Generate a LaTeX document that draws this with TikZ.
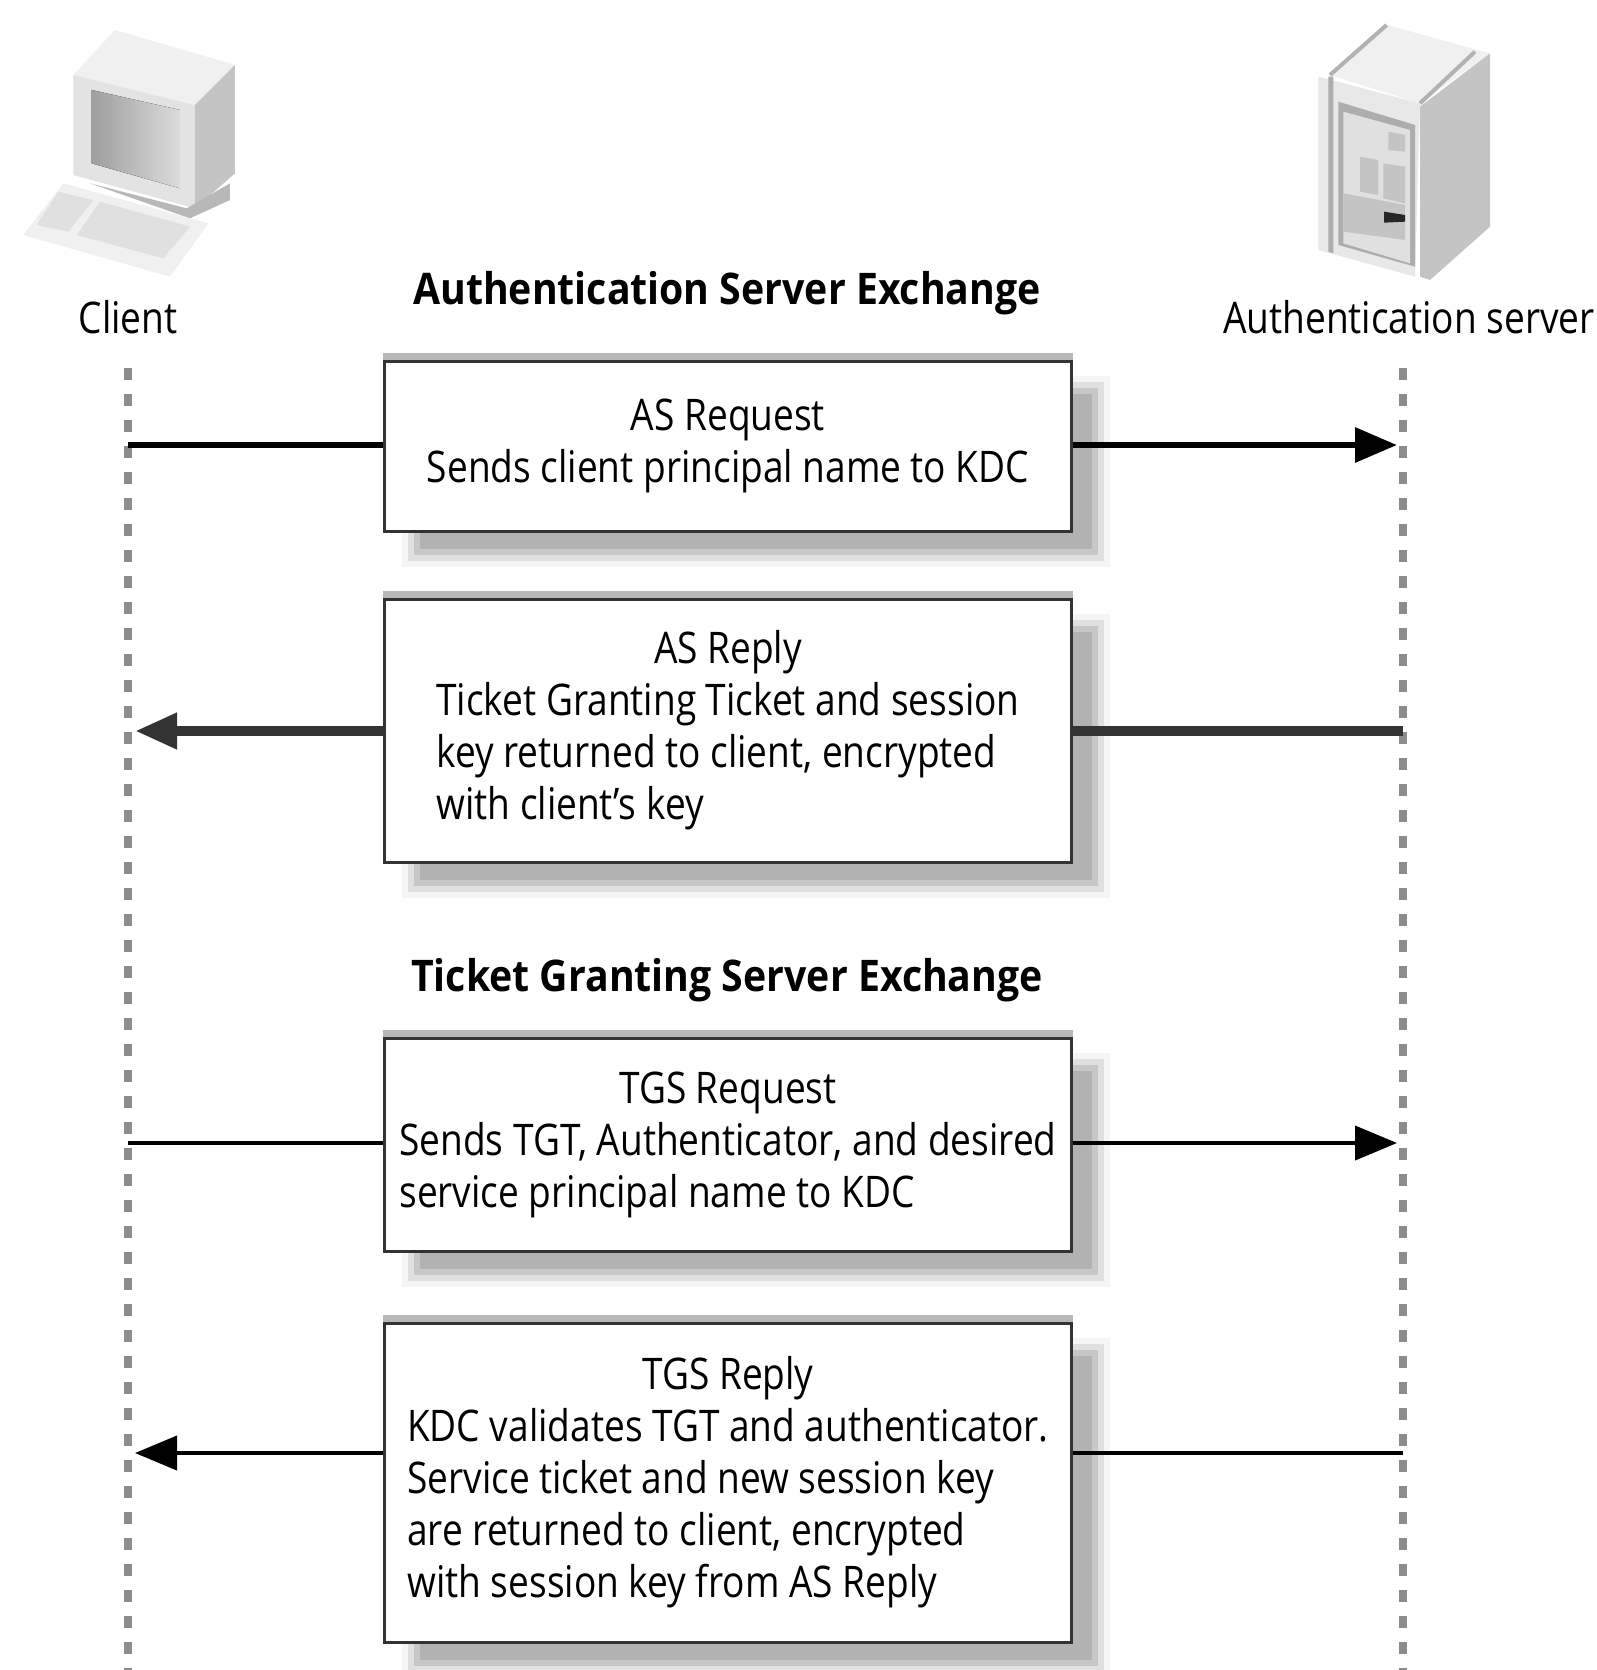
\documentclass[tikz,border=0pt]{standalone}
\usepackage{fontspec}
\setmainfont[FakeStretch=0.85,BoldFeatures={FakeStretch=0.9}]{Open Sans}
\usetikzlibrary{arrows.meta,backgrounds}
\tikzset{
    msgbox/.style={draw=black!80,line width=0.075cm,fill=white,minimum width=17.15cm,inner sep=0pt},
    lifeline/.style={draw=black!45,line width=0.18cm,dash pattern=on 0.3cm off 0.35cm},
    msgarrow/.style={draw=black,-{Triangle[length=1.05cm,width=0.85cm]}},
    msgline/.style={draw=black},
    heading/.style={font=\bfseries\fontsize{31}{37}\selectfont},
    caption/.style={font=\fontsize{31}{37}\selectfont}
}
\begin{document}
\begin{tikzpicture}[x=0.025cm,y=-0.025cm]
    \useasboundingbox (0,0) rectangle (1597,1670);

    % Client computer
    \begin{scope}[scale=1/3]
        \fill[black!6] (345,90) -- (705,195) -- (585,315) -- (220,225) -- cycle;
        \fill[black!23] (585,315) -- (705,195) -- (705,520) -- (585,625) -- cycle;
        \fill[black!11] (220,225) -- (585,315) -- (585,625) -- (220,525) -- cycle;
        \fill[left color=black!38,right color=black!14] (275,270) -- (540,330) -- (540,565) -- (275,490) -- cycle;
        \fill[black!28] (270,550) -- (560,625) -- (690,550) -- (690,600) -- (570,655) -- cycle;
        \fill[black!6] (190,550) -- (625,670) -- (510,830) -- (70,705) -- cycle;
        \fill[black!12] (175,575) -- (280,600) -- (205,695) -- (110,675) -- cycle;
        \fill[black!12] (300,605) -- (570,680) -- (490,775) -- (230,705) -- cycle;
    \end{scope}

    % Authentication server machine
    \begin{scope}[shift={(1280,0)},scale=1/3]
        \fill[black!6] (150,225) -- (320,75) -- (630,160) -- (420,310) -- cycle;
        \draw[black!30,line width=0.1cm] (150,225) -- (320,75);
        \draw[black!30,line width=0.1cm] (420,310) -- (585,155);
        \fill[black!23] (420,320) -- (630,160) -- (630,680) -- (450,840) -- (420,830) -- cycle;
        \fill[black!9] (115,230) -- (420,310) -- (405,830) -- (115,750) -- cycle;
        \fill[black!32] (145,230) -- (160,230) -- (160,760) -- (145,755) -- cycle;
        \fill[black!32] (175,305) -- (405,375) -- (405,800) -- (175,735) -- cycle;
        \fill[black!12] (190,335) -- (390,390) -- (390,790) -- (190,730) -- cycle;
        \fill[black!23] (325,395) -- (375,405) -- (375,455) -- (325,450) -- cycle;
        \fill[black!23] (240,470) -- (295,480) -- (295,585) -- (240,575) -- cycle;
        \fill[black!23] (310,490) -- (375,500) -- (375,610) -- (310,595) -- cycle;
        \fill[black!23] (190,580) -- (375,615) -- (375,720) -- (190,695) -- cycle;
        \fill[black!85] (312,635) -- (375,645) -- (375,665) -- (312,668) -- cycle;
    \end{scope}

    % Lifelines
    \coordinate (clientTop) at (128,368);
    \coordinate (clientEnd) at (128,1670);
    \coordinate (serverTop) at (1403,368);
    \coordinate (serverEnd) at (1403,1670);
    \draw[lifeline] (clientTop) -- (clientEnd);
    \draw[lifeline] (serverTop) -- (serverEnd);

    % Labels
    \node[caption] (clientLabel) at (128,317) {Client};
    \node[caption] (serverLabel) at (1409,317) {Authentication server};
    \node[heading] (asTitle) at (727,293) {Authentication Server Exchange};
    \node[heading] (tgsTitle) at (727,980) {Ticket Granting Server Exchange};

    % Message boxes
    \node[msgbox,caption,minimum height=4.225cm] (asReq) at (728,446.5) {
        \begin{tabular}{c}
            AS Request \\
            Sends client principal name to KDC
        \end{tabular}
    };
    \node[msgbox,caption,minimum height=6.55cm] (asRep) at (728,731) {
        \begin{tabular}{l}
            \multicolumn{1}{c}{AS Reply} \\
            Ticket Granting Ticket and session \\
            key returned to client, encrypted \\
            with client's key
        \end{tabular}
    };
    \node[msgbox,caption,minimum height=5.3cm] (tgsReq) at (728,1145) {
        \begin{tabular}{l}
            \multicolumn{1}{c}{TGS Request} \\
            Sends TGT, Authenticator, and desired \\
            service principal name to KDC
        \end{tabular}
    };
    \node[msgbox,caption,minimum height=7.95cm] (tgsRep) at (728,1483) {
        \begin{tabular}{l}
            \multicolumn{1}{c}{TGS Reply} \\
            KDC validates TGT and authenticator. \\
            Service ticket and new session key \\
            are returned to client, encrypted \\
            with session key from AS Reply
        \end{tabular}
    };

    % Shadows
    \begin{scope}[on background layer]
        \fill[white] (0,0) rectangle (1597,1670);
        \foreach \name in {asReq,asRep,tgsReq,tgsRep} {
            \foreach \g/\m in {4/9,12/3,22/-3,30/-9}
                \fill[black!\g] ([shift={(28-\m,25+\m)}]\name.south west) rectangle ([shift={(28+\m,25-\m)}]\name.north east);
            \fill[black!28] (\name.north west) rectangle ([shift={(0,-7)}]\name.north east);
        }
    \end{scope}

    % Arrows
    \coordinate (clientA) at (128,445);
    \coordinate (serverA) at (1397,445);
    \coordinate (clientB) at (135,731);
    \coordinate (serverB) at (1403,731);
    \coordinate (clientC) at (128,1143);
    \coordinate (serverC) at (1397,1143);
    \coordinate (clientD) at (135,1453);
    \coordinate (serverD) at (1403,1453);
    \draw[msgline,line width=0.16cm] (clientA) -- (clientA -| asReq.west);
    \draw[msgarrow,line width=0.16cm] (serverA -| asReq.east) -- (serverA);
    \draw[msgline,line width=0.25cm,black!80] (serverB) -- (serverB -| asRep.east);
    \draw[msgarrow,line width=0.25cm,black!80] (clientB -| asRep.west) -- (clientB);
    \draw[msgline,line width=0.1cm] (clientC) -- (clientC -| tgsReq.west);
    \draw[msgarrow,line width=0.1cm] (serverC -| tgsReq.east) -- (serverC);
    \draw[msgline,line width=0.1cm] (serverD) -- (serverD -| tgsRep.east);
    \draw[msgarrow,line width=0.1cm] (clientD -| tgsRep.west) -- (clientD);
\end{tikzpicture}
\end{document}
